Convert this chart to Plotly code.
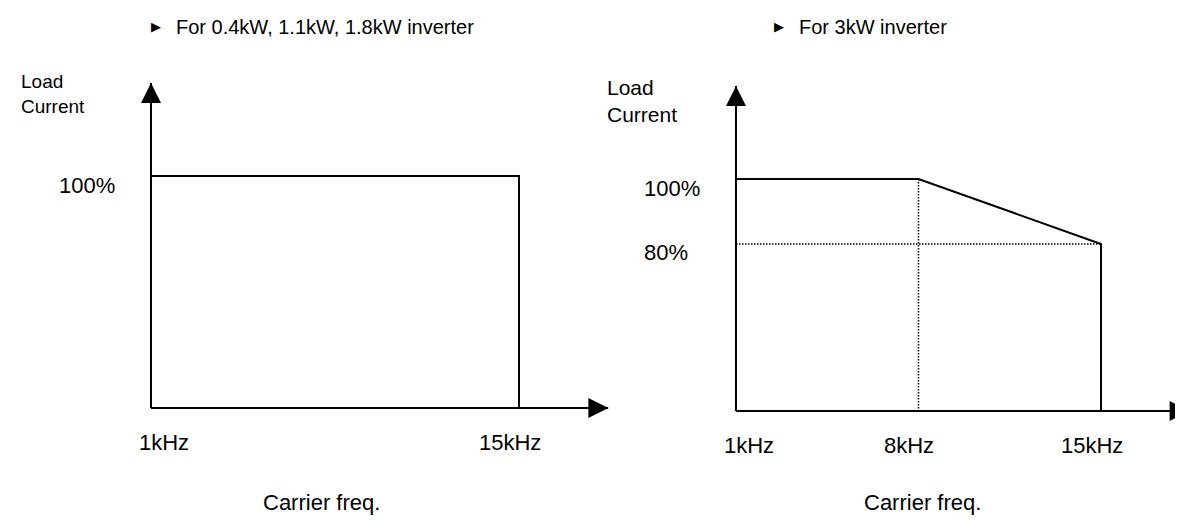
import plotly.graph_objects as go

# left chart: 0.4kW, 1.1kW, 1.8kW inverter
left_freq_khz = [1, 15]
left_load_pct = [100, 100]
left_freq_labels = ["1kHz", "15kHz"]
left_load_labels = ["100%"]

# right chart: 3kW inverter
right_freq_khz = [1, 8, 15]
right_load_pct = [100, 100, 80]
right_freq_labels = ["1kHz", "8kHz", "15kHz"]
right_load_labels = ["100%", "80%"]

W, H = 1183, 520
X0, X_TIP = 1, 18.4        # axis origin / arrow tip, kHz
Y0, Y_TIP = 28.6, 128.6    # axis origin / arrow tip, %
FONT = "Arial, Liberation Sans, sans-serif"
BLACK = "#000000"


def domains(ox, oy, kx, ky):
    # pixel origin + px per unit -> axis domains and ranges
    xr = [X0 - 0.6, X_TIP]
    yr = [Y0 - 3, Y_TIP + 2]
    xd = [(ox - 0.6 * kx) / W, min(1.0, (ox + (X_TIP - X0) * kx) / W)]
    yd = [1 - (oy + 3 * ky) / H, 1 - (oy - (Y_TIP + 2 - Y0) * ky) / H]
    return xd, yd, xr, yr


fig = go.Figure()


def add_panel(n, freq, load, freq_labels, load_labels, ox, oy, kx, ky):
    xa = "x" if n == 1 else f"x{n}"
    ya = "y" if n == 1 else f"y{n}"
    xd, yd, xr, yr = domains(ox, oy, kx, ky)
    hidden = dict(visible=False, fixedrange=True)
    fig.update_layout(**{
        ("xaxis" if n == 1 else f"xaxis{n}"): dict(domain=xd, range=xr, anchor=ya, **hidden),
        ("yaxis" if n == 1 else f"yaxis{n}"): dict(domain=yd, range=yr, anchor=xa, **hidden),
    })
    line = dict(color=BLACK, width=2)
    # axes with arrowheads
    fig.add_trace(go.Scatter(x=[X0, X0], y=[Y0, Y_TIP], mode="lines", line=line,
                             xaxis=xa, yaxis=ya, hoverinfo="skip", showlegend=False))
    fig.add_trace(go.Scatter(x=[X0, X_TIP], y=[Y0, Y0], mode="lines", line=line,
                             xaxis=xa, yaxis=ya, hoverinfo="skip", showlegend=False))
    fig.add_trace(go.Scatter(x=[X0, X_TIP], y=[Y_TIP, Y0], mode="markers",
                             marker=dict(symbol=["arrow-up", "arrow-right"], size=20, color=BLACK),
                             cliponaxis=False, xaxis=xa, yaxis=ya, hoverinfo="skip", showlegend=False))
    # dotted guides for breakpoints
    if len(freq) > 2:
        dot = dict(color=BLACK, width=1.5, dash="1.5px,1.5px")
        fig.add_trace(go.Scatter(x=[freq[1], freq[1]], y=[load[1], Y0], mode="lines", line=dot,
                                 xaxis=xa, yaxis=ya, hoverinfo="skip", showlegend=False))
        fig.add_trace(go.Scatter(x=[X0, freq[-1]], y=[load[-1], load[-1]], mode="lines", line=dot,
                                 xaxis=xa, yaxis=ya, hoverinfo="skip", showlegend=False))
    # derating curve, dropping to the axis at max frequency
    fig.add_trace(go.Scatter(x=freq + [freq[-1]], y=load + [Y0], mode="lines", line=line,
                             xaxis=xa, yaxis=ya, showlegend=False))

    tick_font = dict(family=FONT, size=22, color=BLACK)
    for i, (f, lab) in enumerate(zip(sorted(set(freq)), freq_labels)):
        fig.add_annotation(x=f, y=Y0, xref=xa, yref=ya, text=lab, showarrow=False,
                           xanchor="left" if i == 0 else "center",
                           xshift=-14 if i == 0 else -9, yshift=-34, font=tick_font)
    for v, lab in zip(sorted(set(load), reverse=True), load_labels):
        fig.add_annotation(x=X0, y=v, xref=xa, yref=ya, text=lab, showarrow=False,
                           xanchor="left", xshift=-94, yshift=-9, font=tick_font)


add_panel(1, left_freq_khz, left_load_pct, left_freq_labels, left_load_labels,
          143, 400, (511 - 143) / 14, 232 / (100 - Y0))
add_panel(2, right_freq_khz, right_load_pct, right_freq_labels, right_load_labels,
          728, 403, (1093 - 728) / 14, 232 / (100 - Y0))

paper_text = [
    # (text, x px, y px, size, anchor)
    ("For 0.4kW, 1.1kW, 1.8kW inverter", 166, 19, 20, "left"),
    ("For 3kW inverter", 789, 19, 20, "left"),
    ("Load<br>Current", 11, 86, 19, "left"),
    ("Load<br>Current", 597, 93, 21, "left"),
    ("Carrier freq.", 313, 494, 22, "center"),
    ("Carrier freq.", 914, 494, 22, "center"),
]
for text, px, py, size, anchor in paper_text:
    fig.add_annotation(x=px / W, y=1 - py / H, xref="paper", yref="paper", text=text,
                       showarrow=False, xanchor=anchor, yanchor="middle", align="left",
                       font=dict(family=FONT, size=size, color=BLACK))
for px in (148, 771):
    fig.add_annotation(x=px / W, y=1 - 19 / H, xref="paper", yref="paper", text="▶",
                       showarrow=False, xanchor="center", yanchor="middle",
                       font=dict(family="DejaVu Sans", size=13, color=BLACK))

fig.update_layout(
    width=W, height=H,
    margin=dict(l=0, r=0, t=0, b=0),
    paper_bgcolor="white", plot_bgcolor="white",
    showlegend=False,
)

fig.write_html("out.html", config={"displayModeBar": False})
